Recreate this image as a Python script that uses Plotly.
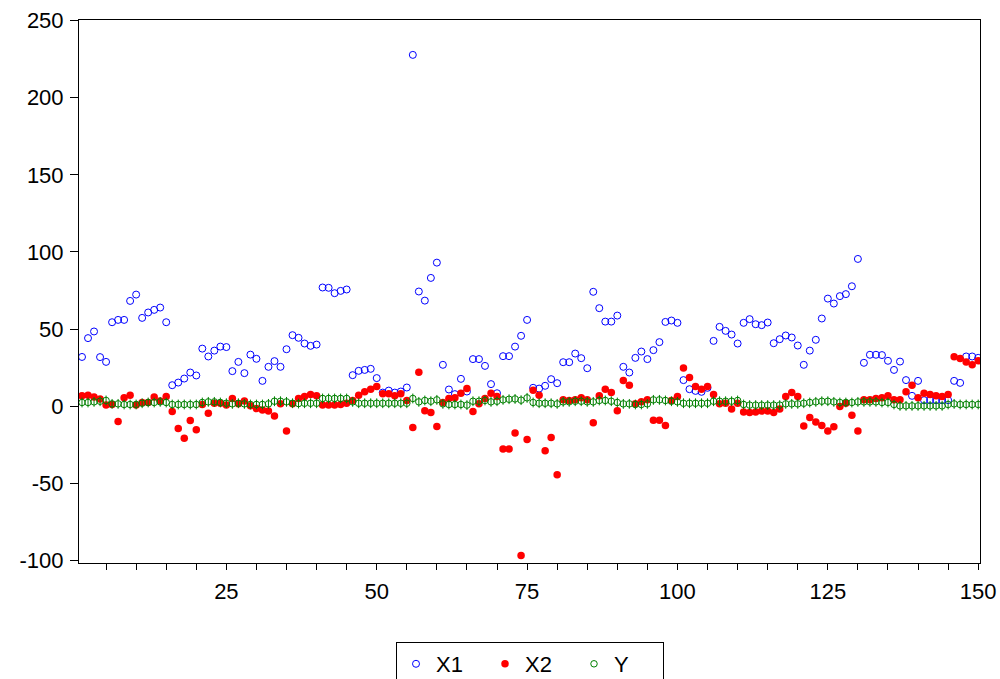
import plotly.graph_objects as go

obs = list(range(1, 151))

x1 = [32, 44.2, 48.5, 31.9, 28.8, 54.5, 56, 56, 68.3, 72.4,
      57.3, 60.8, 62.5, 64, 54.5, 13.7, 15.4, 18, 21.9, 20,
      37.4, 32.3, 36.1, 38.7, 38.4, 22.8, 28.8, 21.5, 33.5, 30.8,
      16.5, 25.6, 29.3, 25.6, 37, 46.1, 44.4, 40.7, 39.2, 40,
      77, 76.8, 73.3, 74.8, 75.7, 20.2, 23, 23.6, 24.3, 18.3,
      8.9, 10.2, 8.9, 9.6, 12.2, 227.7, 74.4, 68.5, 83.2, 93.1,
      26.9, 10.9, 7.9, 17.8, 9.6, 30.6, 30.6, 26.2, 14.4, 8.5,
      32.5, 32.5, 38.7, 45.7, 56, 12, 11.5, 13.3, 17.6, 15,
      28.6, 28.6, 34.2, 31.2, 24.7, 74.2, 63.6, 54.9, 54.9, 58.8,
      25.6, 21.9, 31.4, 35.5, 30.6, 36.4, 41.6, 54.7, 55.6, 54.1,
      17, 11.1, 10, 9.4, 12, 42.4, 51.5, 48.9, 46.5, 40.7,
      54.1, 56.5, 53.2, 52.6, 54.3, 40.9, 43.5, 45.9, 44.6, 39.4,
      26.9, 36.1, 43.1, 56.9, 69.8, 66.6, 71.4, 72.7, 77.8, 95.5,
      28.2, 33.4, 33.4, 33.2, 29.5, 23.6, 29, 17, 6.8, 16.5,
      4, 4, 4, 4, 4, 16.5, 15.2, 32.3, 32.3, 31.4]

x2 = [6.8, 7.2, 6, 4.7, 0.8, 1.2, -9.8, 5.5, 7.2, 0.8,
      2.5, 2.5, 6, 3.4, 6.3, -3.4, -14.4, -20.6, -9.2, -15.2,
      1.2, -4.4, 2, 2, 0.8, 5.1, 1.6, 3.4, 0.3, -1.4,
      -2.3, -3.1, -6.2, 1.6, -15.9, 1.6, 5.1, 6.3, 7.7, 6.8,
      0.8, 0.8, 0.8, 1.2, 2, 3.8, 7.2, 9.4, 11.1, 12.8,
      8.1, 8.1, 6.8, 8.1, 3.8, -13.7, 22.1, -2.9, -4, -13.1,
      2.5, 5.1, 5.5, 8.5, 11.5, -3.4, 1.6, 5.1, 8.5, 6.3,
      -27.7, -27.7, -17.2, -96.6, -21.5, 10.5, 7.2, -28.8, -20.2, -44.4,
      4.2, 3.8, 4.2, 5.5, 4.2, -10.7, 6.8, 11.1, 8.9, -2.9,
      16.7, 13.7, 1.6, 2.9, 4.2, -9, -9, -12.4, 3.8, 6.3,
      24.9, 18.7, 12.8, 11.1, 12.8, 7.7, 1.6, 2, -1.8, 2,
      -3.6, -4, -3.6, -3.1, -3.1, -4, -1.8, 6.3, 8.9, 6.3,
      -12.8, -7.2, -10.2, -12.4, -15.9, -13.3, -0.1, 2, -5.7, -15.9,
      4.2, 4.2, 5.1, 5.5, 6.8, 4.2, 4.2, 9.4, 13.7, 5.5,
      8.5, 7.7, 6.8, 6.3, 7.7, 32.1, 31, 28.8, 26.9, 29.5]

y = [2.5, 2.5, 2.9, 3.3, 3.8, 1.6, 1.6, 1.2, 1.2, 1.2,
     2.0, 2.5, 2.5, 2.9, 2.5, 1.2, 1.2, 1.2, 1.2, 1.2,
     2.5, 2.9, 2.9, 2.5, 2.0, 1.6, 2.0, 1.6, 1.2, 1.2,
     1.2, 1.6, 3.3, 3.3, 2.9, 2.0, 1.8, 2.0, 2.0, 2.0,
     5.1, 5.1, 5.1, 5.1, 5.1, 2.9, 2.0, 2.0, 2.0, 2.0,
     2.0, 2.0, 2.0, 2.0, 2.0, 5.1, 2.9, 3.8, 3.3, 4.2,
     1.6, 1.2, 1.2, 1.2, 0.8, 3.3, 3.3, 3.8, 2.9, 3.3,
     4.2, 4.6, 4.8, 4.0, 5.5, 2.5, 2.0, 2.0, 2.0, 1.6,
     2.9, 2.9, 3.3, 3.3, 2.9, 2.9, 3.8, 3.8, 3.3, 2.5,
     1.6, 1.6, 1.2, 1.2, 1.6, 4.2, 4.2, 3.8, 3.3, 2.9,
     2.0, 2.0, 2.0, 2.0, 2.0, 3.3, 3.3, 3.3, 3.3, 3.8,
     1.2, 0.8, 0.8, 0.8, 0.8, 0.8, 0.8, 1.6, 1.6, 1.6,
     2.0, 2.5, 2.9, 3.3, 3.3, 2.9, 2.5, 2.5, 2.5, 2.9,
     2.9, 2.9, 2.9, 2.5, 2.5, 1.2, 0.3, 0.3, 0.3, 0.3,
     0.3, 0.3, 0.3, 0.3, 1.2, 1.6, 1.2, 1.2, 1.2, 1.2]

y_ticks = [-100, -50, 0, 50, 100, 150, 200, 250]
y_tick_labels = ["-100", "-50", "0", "50", "100", "150", "200", "250"]
x_ticks = [25, 50, 75, 100, 125, 150]

FONT = "Arial, Liberation Sans, sans-serif"
BLUE = "#0000FF"
RED = "#FF0000"
GREEN = "#008000"

fig = go.Figure()
fig.add_trace(go.Scatter(
    x=obs, y=x1, mode="markers", name="X1",
    marker=dict(symbol="circle-open", size=7, color=BLUE, line=dict(width=1, color=BLUE))))
fig.add_trace(go.Scatter(
    x=obs, y=x2, mode="markers", name="X2",
    marker=dict(symbol="circle", size=7.5, color=RED, line=dict(width=0))))
fig.add_trace(go.Scatter(
    x=obs, y=y, mode="markers", name="Y", legendgroup="y",
    marker=dict(symbol="circle-open", size=6.5, color=GREEN, line=dict(width=1, color=GREEN))))
fig.add_trace(go.Scatter(
    x=obs, y=y, mode="markers", name="Y", legendgroup="y", showlegend=False,
    marker=dict(symbol="line-ns-open", size=7, color=GREEN, line=dict(width=1, color=GREEN))))

fig.update_layout(
    width=1000, height=679,
    margin=dict(l=79, r=20, t=20, b=116, autoexpand=False),
    paper_bgcolor="white", plot_bgcolor="white",
    font=dict(family=FONT, size=22, color="black"),
    showlegend=True,
    legend=dict(orientation="h", x=0.53, xanchor="center", xref="container",
                y=1 - 642 / 679, yanchor="top", yref="container",
                bordercolor="black", borderwidth=1, font=dict(size=22, family=FONT),
                entrywidth=44, itemsizing="trace"),
)
fig.update_xaxes(
    range=[0.5, 150.3], tickvals=x_ticks, ticks="outside", ticklen=6, tickcolor="black",
    tickwidth=1, showgrid=False, zeroline=False, showline=True, linecolor="black",
    linewidth=1, mirror=True, automargin=False, ticklabelstandoff=3,
    minor=dict(dtick=5, tick0=0, ticks="outside", ticklen=6, tickcolor="black", showgrid=False),
    tickfont=dict(size=22, family=FONT))
fig.update_yaxes(
    range=[-101.5, 250.3], tickvals=y_ticks, ticktext=y_tick_labels, ticks="outside",
    ticklen=8, tickcolor="black",
    tickwidth=1, showgrid=False, zeroline=False, showline=True, linecolor="black",
    linewidth=1, mirror=True, ticklabelstandoff=2, automargin=False,
    tickfont=dict(size=22, family=FONT))

fig.write_html("out.html")
